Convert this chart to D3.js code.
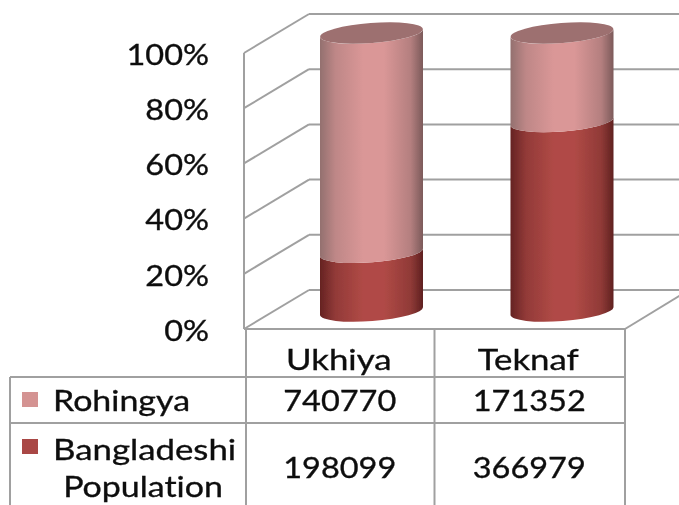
<!DOCTYPE html>
<html><head><meta charset="utf-8">
<script src="https://cdn.jsdelivr.net/npm/d3@7/dist/d3.min.js"></script>
<style>html,body{margin:0;background:#fff}svg{display:block}text{font-family:Lato,sans-serif;font-size:29px;fill:#111;stroke:#111;stroke-width:.35px;font-variant-ligatures:none}</style>
</head><body><svg id="c" width="679" height="505"></svg>
<script>
const categories = ["Ukhiya","Teknaf"];
const rohingya = [740770,171352];
const bangladeshi = [198099,366979];
const seriesNames = ["Bangladeshi","Rohingya"];
const ticks = [0,20,40,60,80,100];
const W=679,H=505;
const svg=d3.select("#c");
const defs=svg.append("defs");
defs.append("filter").attr("id","soft").append("feGaussianBlur").attr("stdDeviation",0.55);
const root=svg.append("g").attr("filter","url(#soft)");
const grid="#a0a0a0";
// scales
const yFront=d3.scaleLinear().domain([0,100]).range([329,53]);
const yCyl=d3.scaleLinear().domain([0,1]).range([311,33]);
const xCol=d3.scaleBand().domain(categories).range([246,625]);
const xCyl=d3.scalePoint().domain(categories).range([371.5,562]);
const dx=64,dy=-39;
const xL=xCol.range()[0],xR=xCol.range()[1];
// walls
const g=root.append("g").attr("fill","none").attr("stroke",grid).attr("stroke-width",2);
g.selectAll("line.side").data(ticks).join("line").attr("class","side").attr("x1",xL-2).attr("x2",xL+dx-1)
 .attr("y1",d=>yFront(d)).attr("y2",d=>yFront(d)+dy);
g.selectAll("line.back").data(ticks).join("line").attr("class","back").attr("x1",xL+dx-1).attr("x2",W+20)
 .attr("y1",d=>yFront(d)+dy).attr("y2",d=>yFront(d)+dy);
g.append("line").attr("x1",xL-2).attr("x2",xL-2).attr("y1",yFront(100)).attr("y2",yFront(0));
g.append("line").attr("x1",xL-2).attr("x2",xR).attr("y1",yFront(0)).attr("y2",yFront(0));
g.append("line").attr("x1",xR).attr("x2",xR+dx).attr("y1",yFront(0)).attr("y2",yFront(0)+dy);
// table
const rowY=[377,423];
const tb=root.append("g").attr("stroke",grid).attr("stroke-width",2);
[xL,xCol("Teknaf")-1,xR].forEach(x=>tb.append("line").attr("x1",x).attr("x2",x).attr("y1",yFront(0)).attr("y2",H));
tb.append("line").attr("x1",10).attr("x2",10).attr("y1",rowY[0]).attr("y2",H);
rowY.forEach(y=>tb.append("line").attr("x1",10).attr("x2",xR).attr("y1",y).attr("y2",y));
// gradients
function grad(id,edgeL,mid,edgeR){
  const lg=defs.append("linearGradient").attr("id",id);
  [[0,edgeL],[.15,d3.interpolateRgb(edgeL,mid)(.6)],[.42,mid],[.62,mid],[.88,d3.interpolateRgb(edgeR,mid)(.6)],[1,edgeR]]
   .forEach(([o,c])=>lg.append("stop").attr("offset",o).attr("stop-color",c));
}
grad("gDark","#652322","#b04a46","#5f2120");
grad("gLight","#93706f","#da9797","#7c5a5a");
// cylinders
const rx=51.5,ry=10,t=4,rot=-4.4;
const rows=categories.map((c,i)=>({cat:c,Rohingya:rohingya[i],Bangladeshi:bangladeshi[i]}));
const stack=d3.stack().keys(seriesNames).offset(d3.stackOffsetExpand)(rows);
const seg=(c,a,b)=>{const x=xCyl(c);return `M${x-rx},${yCyl(a)+t}A${rx},${ry} ${rot} 0 0 ${x+rx},${yCyl(a)-t}L${x+rx},${yCyl(b)-t}A${rx},${ry} ${rot} 0 1 ${x-rx},${yCyl(b)+t}Z`;};
stack.forEach(s=>{
  root.append("g").selectAll("path").data(s).join("path")
   .attr("d",d=>seg(d.data.cat,d[0],d[1]))
   .attr("fill",s.key==="Rohingya"?"url(#gLight)":"url(#gDark)");
});
root.append("g").selectAll("ellipse").data(categories).join("ellipse")
 .attr("cx",0).attr("cy",0).attr("rx",rx).attr("ry",ry)
 .attr("transform",c=>`translate(${xCyl(c)},${yCyl(1)}) rotate(${rot})`)
 .attr("fill","#9d6f6f");
// text helper
function label(x,y,s,anchor,sx){
  root.append("text").attr("transform",`translate(${x},${y}) scale(${sx||1.12},1)`)
   .attr("text-anchor",anchor||"middle").attr("dominant-baseline","central").text(s);
}
ticks.forEach(v=>label(209,yFront(v)+1,v+"%","end"));
categories.forEach(c=>label(xCol(c)+xCol.bandwidth()/2-2,359,c,null,1.2));
rohingya.forEach((v,i)=>label(xCol(categories[i])+xCol.bandwidth()/2-1,400,String(v)));
bangladeshi.forEach((v,i)=>label(xCol(categories[i])+xCol.bandwidth()/2-1,467,String(v)));
label(53,400,"Rohingya","start",1.17);
label(53,449,"Bangladeshi","start",1.2);
label(143,486,"Population",null,1.17);
root.append("rect").attr("x",22).attr("y",392).attr("width",16).attr("height",15).attr("fill","#d49392");
root.append("rect").attr("x",22).attr("y",439).attr("width",16).attr("height",15).attr("fill","#a94644");
</script></body></html>
